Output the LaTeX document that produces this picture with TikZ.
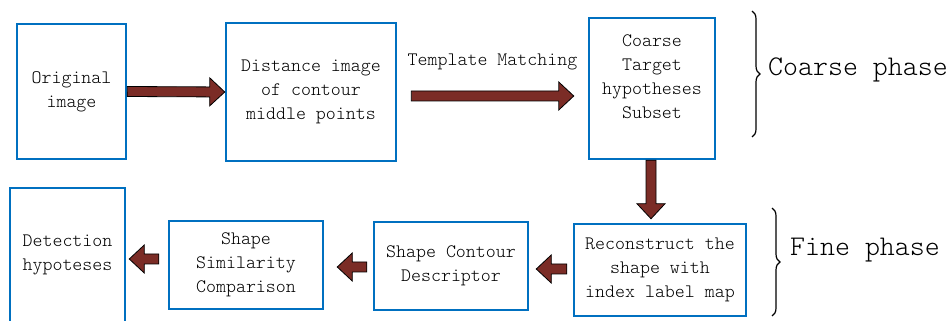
\documentclass[tikz,border=0pt]{standalone}
\usepackage{tikz}
\usetikzlibrary{calc}
\usetikzlibrary{decorations.pathreplacing}
\definecolor{boxblue}{HTML}{0070C0}
\definecolor{arrowred}{HTML}{7B2C26}
\newcommand{\boxfont}{\ttfamily\fontseries{l}\fontsize{19}{24}\selectfont}
\newcommand{\phasefont}{\ttfamily\fontseries{l}\fontsize{28.5}{30}\selectfont}
\newcommand{\blockarrow}[2]{%
\draw[blockarrow] let \p1=#1, \p2=#2, \n1={atan2(\y2-\y1,\x2-\x1)}, \n2={veclen(\x2-\x1,\y2-\y1)} in
  ($(\p1)+({\n1+90}:5)$) -- ($(\p1)+({\n1}:{\n2-15})+({\n1+90}:5)$)
  -- ($(\p1)+({\n1}:{\n2-15})+({\n1+90}:14)$) -- (\p2)
  -- ($(\p1)+({\n1}:{\n2-15})+({\n1-90}:14)$) -- ($(\p1)+({\n1}:{\n2-15})+({\n1-90}:5)$)
  -- ($(\p1)+({\n1-90}:5)$) -- cycle;}

\begin{document}
\begin{tikzpicture}[x=1pt, y=1pt,
  box/.style={draw=boxblue, line width=2.5pt, align=center, inner sep=0pt, font=\boxfont},
  boxtext/.style={align=center, inner sep=0pt, font=\boxfont},
  blockarrow/.style={draw=black, line width=0.8pt, fill=arrowred, line join=miter},
  phasebrace/.style={draw=black, line width=1.2pt, decorate, decoration={brace, amplitude=8pt}}]

\useasboundingbox (0,0) rectangle (950,321);

\node[box, minimum width=109, minimum height=135] (orig) at (71.5,229.5) {Original\\image};
\node[box, minimum width=170, minimum height=138] (dist) at (311,229) {Distance image\\of contour\\middle points};
\node[box, minimum width=126, minimum height=141] (coarse) at (652,232.5) {};
\node[boxtext] (coarsetext) at (652,244.5) {Coarse\\Target\\hypotheses\\Subset};

\node[box, minimum width=172, minimum height=92] (recon) at (660,51) {Reconstruct the\\shape with\\index label map};
\node[box, minimum width=154, minimum height=88] (descr) at (451,55) {Shape Contour\\Descriptor};
\node[box, minimum width=154, minimum height=88] (simil) at (246,56) {Shape\\Similarity\\Comparison};
\node[box, minimum width=115, minimum height=153] (detect) at (67.5,56.5) {};
\node[boxtext] (detecttext) at (67.5,66) {Detection\\hypoteses};

\node[boxtext] (tm) at ($(dist.east)!0.5!(coarse.west |- dist.east)+(0,30)$) {Template Matching};

\blockarrow{(orig.east)}{(dist.west)}
\blockarrow{($(dist.east)+(14,-4)$)}{($(coarse.west |- dist.east)+(-14,-4)$)}
\blockarrow{($(coarse.south)+(-1,0)$)}{($(recon.north -| coarse.south)+(-1,4)$)}
\blockarrow{($(recon.west)+(-6,1)$)}{($(descr.east)+(7,-3)$)}
\blockarrow{($(descr.west)+(-6,-1)$)}{($(simil.east)+(13,-2)$)}
\blockarrow{($(simil.west)+(-9,6)$)}{($(detect.east |- simil.west)+(3,6)$)}

\draw[phasebrace] (752,310) -- (752,184);
\node[anchor=west, inner sep=0pt, font=\phasefont] (coarsephase) at (768,251) {Coarse phase};
\draw[phasebrace] (772,113) -- (772,5);
\node[anchor=west, inner sep=0pt, font=\phasefont] (finephase) at (790,71) {Fine phase};

\end{tikzpicture}
\end{document}
